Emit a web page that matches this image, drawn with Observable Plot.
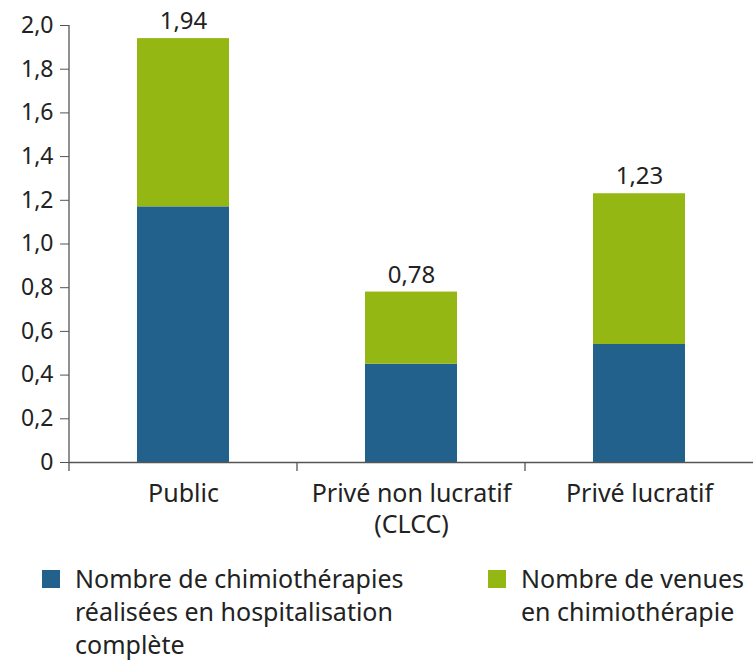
<!DOCTYPE html>
<html>
<head>
<meta charset="utf-8">
<script src="https://cdn.jsdelivr.net/npm/d3@7"></script>
<script src="https://cdn.jsdelivr.net/npm/@observablehq/plot@0.6"></script>
<style>
  html, body { margin: 0; padding: 0; background: #fff; overflow: hidden; }
  body { width: 753px; font-family: "Noto Sans", sans-serif; color: #222; }
  .legend { position: relative; height: 113px; font-size: 25px; line-height: 33px; color: #222; }
  .item { position: absolute; top: 14px; display: flex; align-items: flex-start; white-space: nowrap; }
  .sw { width: 18px; height: 18px; margin-top: 8px; margin-right: 15px; flex: none; }
</style>
</head>
<body>
<div id="chart"></div>
<div class="legend" id="legend"></div>
<script>
const categories = ["Public", "Privé non lucratif\n(CLCC)", "Privé lucratif"];
const seriesNames = [
  "Nombre de chimiothérapies réalisées en hospitalisation complète",
  "Nombre de venues en chimiothérapie"
];
const hospitalisation = [1.17, 0.45, 0.54];
const venues = [0.77, 0.33, 0.69];
const totals = [1.94, 0.78, 1.23];
const yTicks = [0, 0.2, 0.4, 0.6, 0.8, 1.0, 1.2, 1.4, 1.6, 1.8, 2.0];
const colors = ["#22618c", "#95b714"];

const rows = [];
categories.forEach((c, i) => {
  rows.push({cat: c, series: seriesNames[0], value: hospitalisation[i]});
  rows.push({cat: c, series: seriesNames[1], value: venues[i]});
});
const totalRows = categories.map((c, i) => ({cat: c, total: totals[i]}));
const fmt = d => d === 0 ? "0" : d.toFixed(1).replace(".", ",");

const plot = Plot.plot({
  width: 753,
  height: 548,
  marginLeft: 69,
  marginRight: 0,
  marginTop: 25,
  marginBottom: 86,
  style: {fontFamily: "'Noto Sans', sans-serif", fontSize: "22px", color: "#222", background: "#fff"},
  x: {domain: categories, padding: 0, label: null},
  y: {domain: [0, 2], label: null},
  color: {domain: seriesNames, range: colors},
  marks: [
    Plot.barY(rows, {x: "cat", y: "value", fill: "series", order: seriesNames, insetLeft: 68, insetRight: 68}),
    Plot.ruleY([0], {stroke: "#555", strokeWidth: 1.3}),
    Plot.axisY({ticks: yTicks, tickFormat: fmt, tickSize: 9, tickPadding: 7, stroke: "#555", fontSize: 23, label: null}),
    Plot.axisX({tickSize: 0, tickPadding: 17, fontSize: 25, lineHeight: 1.25, label: null}),
    Plot.text(totalRows, {x: "cat", y: "total", text: d => d.total.toFixed(2).replace(".", ","), dy: -17, fontSize: 24, fill: "#222"})
  ]
});
document.getElementById("chart").appendChild(plot);

// y axis line and category boundary ticks from the library's scales
const sx = plot.scale("x"), sy = plot.scale("y");
const svg = d3.select(plot);
const y0 = sy.apply(0), yTop = sy.apply(2);
const g = svg.append("g").attr("stroke", "#555").attr("stroke-width", 1.3);
g.append("line").attr("x1", sx.apply(categories[0])).attr("x2", sx.apply(categories[0]))
  .attr("y1", yTop).attr("y2", y0);
categories.forEach(c => {
  const xb = sx.apply(c);
  g.append("line").attr("x1", xb).attr("x2", xb).attr("y1", y0).attr("y2", y0 + 9);
});

// legend
const legend = document.getElementById("legend");
const lines = [
  ["Nombre de chimiothérapies", "réalisées en hospitalisation", "complète"],
  ["Nombre de venues", "en chimiothérapie"]
];
const lefts = [42, 488];
seriesNames.forEach((s, i) => {
  const item = document.createElement("div");
  item.className = "item";
  item.style.left = lefts[i] + "px";
  item.innerHTML = `<div class="sw" style="background:${colors[i]}"></div><div>${lines[i].join("<br>")}</div>`;
  legend.appendChild(item);
});
</script>
</body>
</html>
